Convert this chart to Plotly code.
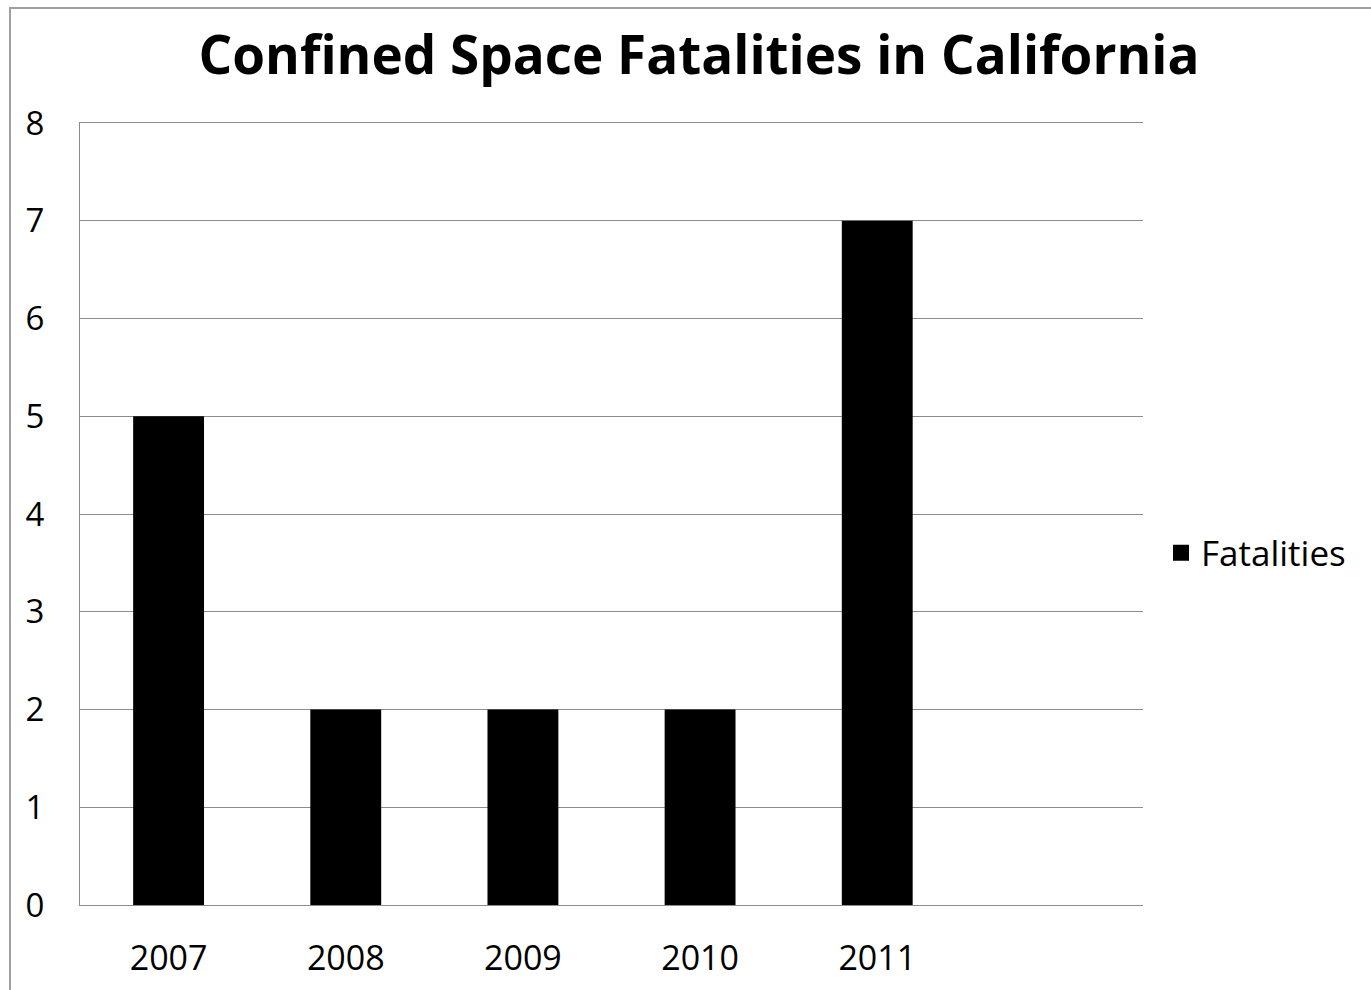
import plotly.graph_objects as go

years = ["2007", "2008", "2009", "2010", "2011"]
fatalities = [5, 2, 2, 2, 7]
y_ticks = [0, 1, 2, 3, 4, 5, 6, 7, 8]

W, H = 1371, 990
L, R, T, B = 80, 1371 - 1143, 123, 990 - 905
pw, ph = W - L - R, H - T - B

def px_x(x):
    return (x - L) / pw

def px_y(y):
    return (H - B - y) / ph

fig = go.Figure()
fig.add_trace(go.Bar(x=years, y=fatalities, name="Fatalities",
                     marker=dict(color="black", line=dict(width=0)),
                     width=0.4, showlegend=False))
# legend entry with a larger square swatch
fig.add_trace(go.Scatter(x=[None], y=[None], mode="markers", name="Fatalities",
                         marker=dict(symbol="square", size=24, color="black"),
                         showlegend=True))

fig.update_layout(
    width=W, height=H,
    margin=dict(l=L, r=R, t=T, b=B, autoexpand=False),
    paper_bgcolor="white", plot_bgcolor="white",
    font=dict(family="Open Sans, sans-serif", color="black"),
    title=dict(text="<b>Confined Space Fatalities in California</b>",
               x=px_x(699), xref="paper", xanchor="center",
               y=1 - 55 / H, yref="container", yanchor="middle",
               font=dict(size=53, family="Open Sans, sans-serif", color="black")),
    xaxis=dict(type="category", range=[-0.5, 5.5], showgrid=False,
               showline=True, mirror=True, linecolor="#8c8c8c", linewidth=1,
               ticks="", tickfont=dict(size=34), automargin=False,
               ticklabelstandoff=23),
    yaxis=dict(range=[0, 8], tickvals=y_ticks, showgrid=True,
               gridcolor="#8c8c8c", gridwidth=1, zeroline=True,
               zerolinecolor="#8c8c8c", zerolinewidth=1, automargin=False,
               showline=True, linecolor="#8c8c8c", linewidth=1,
               ticks="", tickfont=dict(size=33), ticklabelstandoff=28),
    legend=dict(x=px_x(1161), y=px_y(553), xanchor="left", yanchor="middle",
                font=dict(size=35), bgcolor="rgba(0,0,0,0)",
                itemwidth=30),
    shapes=[dict(type="rect", xref="paper", yref="paper",
                 x0=px_x(10), x1=px_x(1400), y0=px_y(1010), y1=px_y(8),
                 line=dict(color="#a0a0a0", width=2), fillcolor="rgba(0,0,0,0)",
                 layer="below")],
)

fig.write_html("out.html")
